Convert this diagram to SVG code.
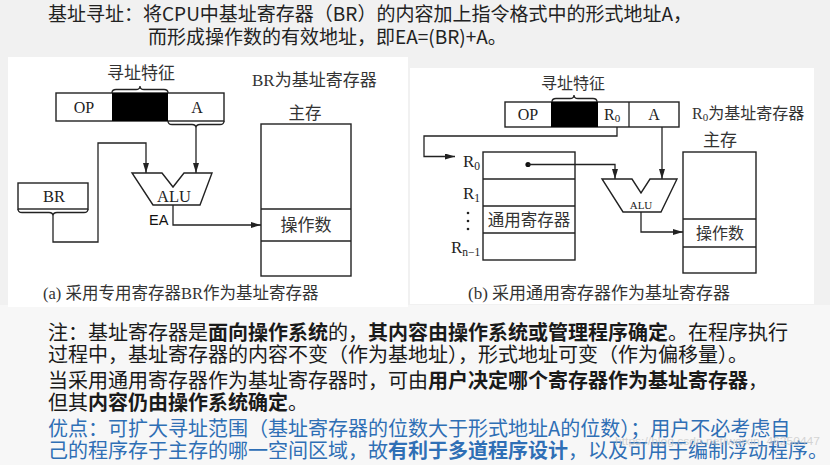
<svg xmlns="http://www.w3.org/2000/svg" width="830" height="465" viewBox="0 0 830 465">
<defs>
<marker id="arr" viewBox="0 0 10 6" refX="10" refY="3" markerWidth="10" markerHeight="6" markerUnits="userSpaceOnUse" orient="auto">
<path d="M0,0 L10,3 L0,6 z" fill="#222"/>
</marker>
<style>
.bx{fill:#fff;stroke:#222;stroke-width:1.4}
.ln{fill:none;stroke:#222;stroke-width:1.3}
.lat{font-family:"Liberation Serif","Noto Sans CJK SC",serif;fill:#222}
.cjk{font-family:"Liberation Serif","Noto Sans CJK SC",sans-serif;fill:#333}
.ttl{font-family:"Noto Sans CJK SC",sans-serif;font-size:19px;fill:#222}
.txt{font-family:"Noto Sans CJK SC",sans-serif;font-size:20px;fill:#1a1a1a}
.blue{fill:#2f6fb5}
.b{font-weight:700}
.mid{text-anchor:middle}
</style>
</defs>
<rect x="0" y="0" width="830" height="465" fill="#f1f1f1"/>
<rect x="0" y="305" width="830" height="160" fill="#f7f7f7"/>
<rect x="8" y="57" width="400" height="250" fill="#fff"/>
<rect x="410" y="68" width="404" height="236" fill="#fff"/>

<g id="title">
<text class="ttl" x="48" y="21">基址寻址：将CPU中基址寄存器（BR）的内容加上指令格式中的形式地址A，</text>
<text class="ttl" x="148" y="44">而形成操作数的有效地址，即EA=(BR)+A。</text>
</g>

<!-- Diagram (a) -->
<g id="a-instr">
<rect class="bx" x="56" y="93" width="168" height="28"/>
<rect x="112" y="93" width="56" height="28" fill="#000"/>
<text class="lat mid" x="84" y="113" font-size="16">OP</text>
<text class="lat mid" x="197" y="113" font-size="16">A</text>
<path class="ln" d="M112,93 Q112,89.5 116,89.5 L136,89.5 Q140,89.5 140,86 Q140,89.5 144,89.5 L164,89.5 Q168,89.5 168,93"/>
<text class="cjk mid" x="141" y="79" font-size="17">寻址特征</text>
<path class="ln" d="M168,121 Q168,124.5 172,124.5 L192,124.5 Q196,124.5 196,128 Q196,124.5 200,124.5 L220,124.5 Q224,124.5 224,121"/>
</g>
<g id="a-br">
<rect class="bx" x="18" y="183" width="70" height="26"/>
<text class="lat mid" x="54" y="202" font-size="16.5">BR</text>
<path class="ln" d="M18,209 Q18,212.5 22,212.5 L49,212.5 Q53,212.5 53,216 Q53,212.5 57,212.5 L84,212.5 Q88,212.5 88,209"/>
</g>
<g id="a-alu">
<polygon class="bx" points="132,173 162,173 173,187 184,173 212,173 200,205 153,205"/>
<text class="lat mid" x="174" y="202" font-size="16.5">ALU</text>
<text x="149" y="225" font-family="Liberation Sans, sans-serif" font-size="14.5" fill="#111">EA</text>
</g>
<g id="a-mem">
<rect class="bx" x="261" y="124" width="90" height="152"/>
<line class="ln" x1="261" y1="209" x2="351" y2="209"/>
<line class="ln" x1="261" y1="241" x2="351" y2="241"/>
<text class="cjk mid" x="305" y="119" font-size="16.5">主存</text>
<text class="cjk mid" x="306" y="231" font-size="17">操作数</text>
</g>
<g id="a-labels">
<text class="cjk" x="252" y="86" font-size="17">BR为基址寄存器</text>
<text class="cjk" x="43" y="299" font-size="16.5">(a) 采用专用寄存器BR作为基址寄存器</text>
</g>

<!-- Diagram (b) -->
<g id="b-instr">
<rect class="bx" x="505" y="102" width="174" height="25"/>
<rect x="551" y="102" width="47" height="25" fill="#000"/>
<line class="ln" x1="629" y1="102" x2="629" y2="127"/>
<text class="lat mid" x="528" y="120" font-size="16">OP</text>
<text class="lat" x="604" y="120" font-size="16">R<tspan font-size="11" dy="2">0</tspan></text>
<text class="lat mid" x="654" y="120" font-size="16">A</text>
<path class="ln" d="M552,102 Q552,98.5 556,98.5 L570,98.5 Q574,98.5 574,95 Q574,98.5 578,98.5 L593,98.5 Q597,98.5 597,102"/>
<text class="cjk mid" x="573" y="89" font-size="16">寻址特征</text>
<text class="cjk" x="692" y="119" font-size="16">R<tspan font-size="11" dy="2">0</tspan><tspan dy="-2">为基址寄存器</tspan></text>
</g>
<g id="b-regs">
<rect class="bx" x="483" y="152" width="92" height="108"/>
<line class="ln" x1="483" y1="179" x2="575" y2="179"/>
<line class="ln" x1="483" y1="206" x2="575" y2="206"/>
<line class="ln" x1="483" y1="233" x2="575" y2="233"/>
<text class="cjk mid" x="529" y="226" font-size="16.5">通用寄存器</text>
<text class="lat" x="463" y="167" font-size="17">R<tspan font-size="11.5" dy="3">0</tspan></text>
<text class="lat" x="463" y="199" font-size="17">R<tspan font-size="11.5" dy="3">1</tspan></text>
<circle cx="468" cy="213" r="1.3" fill="#222"/>
<circle cx="468" cy="221" r="1.3" fill="#222"/>
<circle cx="468" cy="229" r="1.3" fill="#222"/>
<text class="lat" x="451" y="253" font-size="17">R<tspan font-size="11.5" dy="3">n−1</tspan></text>
<circle cx="528" cy="164.5" r="2.6" fill="#111"/>
</g>
<g id="b-alu">
<polygon class="bx" points="602,179 632,179 641,193 650,179 677,179 661,212 623,212"/>
<text class="lat mid" x="641" y="209" font-size="11">ALU</text>
</g>
<g id="b-mem">
<rect class="bx" x="683" y="152" width="73" height="121"/>
<line class="ln" x1="683" y1="219" x2="756" y2="219"/>
<line class="ln" x1="683" y1="247" x2="756" y2="247"/>
<text class="cjk mid" x="720" y="146" font-size="17">主存</text>
<text class="cjk mid" x="720" y="239" font-size="16">操作数</text>
</g>
<g id="b-labels">
<text class="cjk" x="468" y="299" font-size="17">(b) 采用通用寄存器作为基址寄存器</text>
</g>

<g id="connectors">
<path class="ln" d="M196,128 V173" marker-end="url(#arr)"/>
<path class="ln" d="M53,216 V242 H98 V143 H146 V173" marker-end="url(#arr)"/>
<path class="ln" d="M173,205 V225 H261" marker-end="url(#arr)"/>
<path class="ln" d="M617,127 V136 H424 V156.5 H455" marker-end="url(#arr)"/>
<path class="ln" d="M528,164.5 H615 V179" marker-end="url(#arr)"/>
<path class="ln" d="M662,127 V179" marker-end="url(#arr)"/>
<path class="ln" d="M641,212 V232 H683" marker-end="url(#arr)"/>
</g>

<g id="notes">
<text class="txt" x="48" y="340">注：基址寄存器是<tspan class="b">面向操作系统</tspan>的，<tspan class="b">其内容由操作系统或管理程序确定</tspan>。在程序执行</text>
<text class="txt" x="48" y="362">过程中，基址寄存器的内容不变（作为基地址），形式地址可变（作为偏移量）。</text>
<text class="txt" x="48" y="388">当采用通用寄存器作为基址寄存器时，可由<tspan class="b">用户决定哪个寄存器作为基址寄存器</tspan>，</text>
<text class="txt" x="48" y="410">但其<tspan class="b">内容仍由操作系统确定</tspan>。</text>
<text class="txt blue" x="48" y="436">优点：可扩大寻址范围（基址寄存器的位数大于形式地址A的位数）；用户不必考虑自</text>
<text class="txt blue" x="48" y="458">己的程序存于主存的哪一空间区域，故<tspan class="b">有利于多道程序设计</tspan>，以及可用于编制浮动程序。</text>
<text x="615" y="445" font-family="Liberation Sans, sans-serif" font-size="11.5" textLength="205" lengthAdjust="spacingAndGlyphs" fill="#c4c4c4" fill-opacity="0.7">https://blog.csdn.net/weixin_46250447</text>
</g>
</svg>
